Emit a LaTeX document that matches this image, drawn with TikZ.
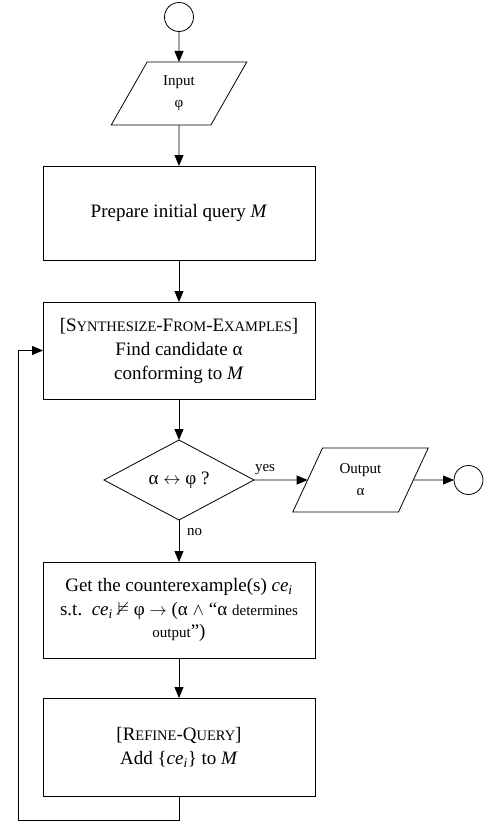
\documentclass[tikz,border=0pt]{standalone}
\usepackage{amssymb}
\usepackage{fontspec}
\setmainfont{Liberation Serif}
\usetikzlibrary{shapes.geometric,arrows.meta}

% hand-made small capitals (the serif face has no true small caps)
\newcommand{\capsmall}[1]{{\fontsize{14.5}{14.5}\selectfont #1}}
\newcommand{\cei}{\textit{ce}\textsubscript{\textit{i}}}

\begin{document}
\begin{tikzpicture}[x=1pt,y=-1pt,
  every node/.style={inner sep=0pt, outer sep=0pt},
  flow/.style={draw=black, line width=0.8pt},
  stepbox/.style={flow, rectangle, minimum width=272pt, align=center,
    font=\fontsize{19}{24}\selectfont},
  io/.style={flow, trapezium, trapezium left angle=63, trapezium right angle=117,
    trapezium stretches=true, minimum width=136pt, minimum height=63pt,
    align=center, font=\fontsize{15}{22}\selectfont},
  terminal/.style={flow, circle, minimum size=29pt},
  decision/.style={flow, diamond, minimum width=150pt, minimum height=80pt,
    font=\fontsize{19}{24}\selectfont},
  arr/.style={line width=0.8pt, -{Triangle[length=11pt,width=9pt]}},
  lbl/.style={font=\fontsize{15}{15}\selectfont}
]
\useasboundingbox (0,0) rectangle (487,823);

% main column
\node[terminal] (start) at (179,17) {};
\node[io] (inp) at (179,93.5) {Input\\φ};
\node[stepbox, minimum height=94pt] (prep) at (179,213) {Prepare initial query \textit{M}};
\node[stepbox, minimum height=97pt] (syn) at (179,350.5)
  {[S\capsmall{YNTHESIZE}-F\capsmall{ROM}-E\capsmall{XAMPLES}]\\
   Find candidate α\\ conforming to \textit{M}};
\node[decision] (dia) at (179,480) {α $\leftrightarrow$ φ ?};
\node[stepbox, minimum height=96pt] (cex) at (179,610)
  {Get the counterexample(s) \cei\\
   s.t.\ \ \cei\ $\nvDash$ φ $\rightarrow$ (α $\wedge$ “α {\fontsize{15}{15}\selectfont determines}\\[-2pt]
   {\fontsize{15}{15}\selectfont output}”)};
\node[stepbox, minimum height=98pt] (ref) at (179,747)
  {[R\capsmall{EFINE}-Q\capsmall{UERY}]\\ Add \{\cei\} to \textit{M}};

% output branch
\node[io, minimum width=136pt, minimum height=64pt] (out) at (360.5,480) {Output\\α};
\node[terminal] (stop) at (468.5,480) {};

% branch labels
\node[lbl, anchor=south west] (yes) at ([shift={(1,-5)}]dia.east) {yes};
\node[lbl, anchor=north west] (no) at ([shift={(8,8)}]dia.south) {no};

% loop corner
\coordinate (loop) at (18,820);

% connectors
\draw[arr] (start) -- (inp);
\draw[arr] (inp) -- (prep);
\draw[arr] (prep) -- (syn);
\draw[arr] (syn) -- (dia);
\draw[arr] (dia) -- (out);
\draw[arr] (out) -- (stop);
\draw[arr] (dia) -- (cex);
\draw[arr] (cex) -- (ref);
\draw[arr] (ref.south) |- (loop) |- (syn.west);
\end{tikzpicture}
\end{document}
